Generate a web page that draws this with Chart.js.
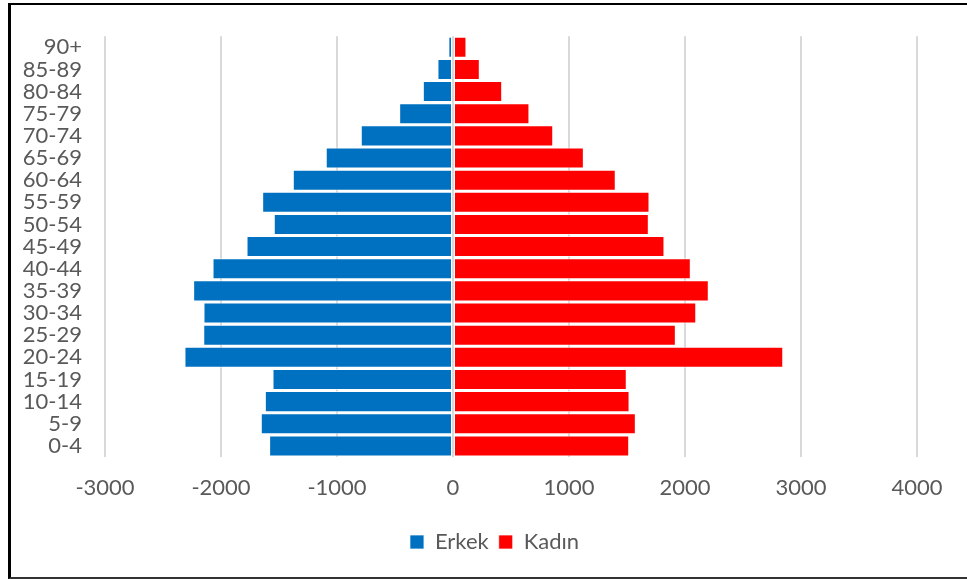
<!DOCTYPE html>
<html>
<head>
<meta charset="utf-8">
<script src="https://cdn.jsdelivr.net/npm/chart.js@4/dist/chart.umd.min.js"></script>
<style>
  html, body { margin: 0; padding: 0; background: #fff; overflow: hidden; }
  #wrap { position: absolute; left: 0; top: 0; width: 967px; height: 579px; }
  #frame {
    position: absolute; left: 8px; top: 3px; width: 980px; height: 576px;
    box-sizing: border-box; pointer-events: none;
    border-left: 3px solid #000; border-top: 2px solid #000; border-bottom: 2px solid #333;
  }
</style>
</head>
<body>
<div id="wrap"><canvas id="chart" width="967" height="579"></canvas></div>
<div id="frame"></div>
<script>
/* ---------- DATA ---------- */
const ageGroups = ["90+", "85-89", "80-84", "75-79", "70-74", "65-69", "60-64", "55-59", "50-54",
  "45-49", "40-44", "35-39", "30-34", "25-29", "20-24", "15-19", "10-14", "5-9", "0-4"];
const erkek = [40, 134, 260, 464, 795, 1097, 1381, 1645, 1545, 1780, 2073, 2240, 2151, 2153, 2315, 1556, 1622, 1657, 1585];
const kadin = [116, 231, 424, 659, 864, 1128, 1403, 1694, 1688, 1823, 2050, 2205, 2097, 1921, 2847, 1498, 1522, 1576, 1519];
const xTicks = [-3000, -2000, -1000, 0, 1000, 2000, 3000, 4000];

/* ---------- CHART ---------- */
const FONT = "Lato";
const TEXT = "#595959";

// nudge legend so it is centred like the original
const legendShift = {
  id: "legendShift",
  afterLayout(chart) {
    const lg = chart.legend;
    if (!lg) return;
    lg.left += 36;
    lg.right += 36;
  }
};

new Chart(document.getElementById("chart"), {
  type: "bar",
  data: {
    labels: ageGroups,
    datasets: [
      {
        label: "Erkek",
        data: erkek.map(v => -v),
        backgroundColor: "#0070C0",
        borderColor: "rgba(255,255,255,0.7)",
        borderWidth: 1,
        borderSkipped: false
      },
      {
        label: "Kadın",
        data: kadin,
        backgroundColor: "#FF0000",
        borderColor: "rgba(255,255,255,0.7)",
        borderWidth: 1,
        borderSkipped: false
      }
    ]
  },
  options: {
    indexAxis: "y",
    responsive: false,
    animation: false,
    barPercentage: 0.95,
    categoryPercentage: 1,
    layout: { padding: { top: 33, right: 50, bottom: 16, left: 0 } },
    scales: {
      x: {
        stacked: true,
        min: -3000,
        max: 4000,
        afterBuildTicks: s => { s.ticks = xTicks.map(v => ({ value: v })); },
        afterFit: s => { s.height = 64; },
        grid: { color: "#d9d9d9", lineWidth: 2, drawTicks: false },
        border: { display: false },
        ticks: {
          padding: 18,
          color: TEXT,
          font: { family: FONT, size: 22 },
          callback: v => String(v)
        }
      },
      y: {
        stacked: true,
        afterFit: s => { s.width = 105; },
        grid: { display: false, drawTicks: false },
        border: { display: false },
        ticks: {
          padding: 23,
          color: TEXT,
          font: { family: FONT, size: 22 },
          autoSkip: false
        }
      }
    },
    plugins: {
      legend: {
        position: "bottom",
        labels: {
          boxWidth: 14,
          boxHeight: 14,
          padding: 10,
          color: TEXT,
          font: { family: FONT, size: 22 }
        }
      },
      tooltip: { enabled: false }
    }
  },
  plugins: [legendShift]
});
</script>
</body>
</html>
